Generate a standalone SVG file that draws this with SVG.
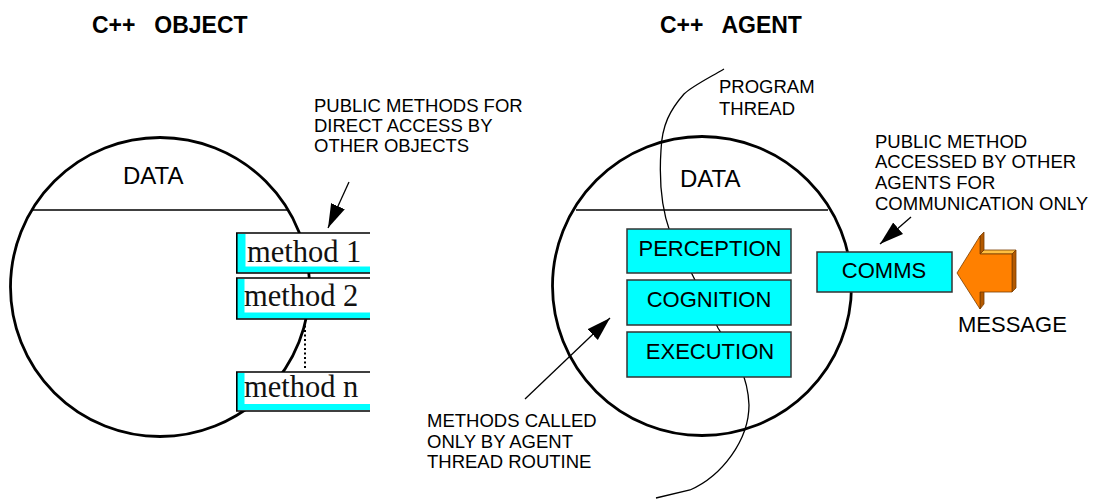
<svg xmlns="http://www.w3.org/2000/svg" width="1095" height="502" viewBox="0 0 1095 502">
  <defs>
    <style>
      .title { font-family: "Liberation Sans", Arial, sans-serif; font-weight: bold; font-size: 23px; word-spacing: 3px; fill: #000; }
      .note { font-family: "Liberation Sans", Arial, sans-serif; font-size: 18.5px; fill: #000; }
      .big { font-family: "Liberation Sans", Arial, sans-serif; font-size: 22px; fill: #000; }
      .data { font-family: "Liberation Sans", Arial, sans-serif; font-size: 24px; fill: #000; }
      .meth { font-family: "Liberation Serif", "Times New Roman", serif; font-size: 30.5px; fill: #111; }
      .shell { fill: none; stroke: #000; stroke-width: 2.8; }
      .divider { stroke: #000; stroke-width: 1.3; }
      .mbox { fill: #fff; }
      .mshade { fill: #00ffff; }
      .mborder { fill: none; stroke: #000; stroke-width: 1.6; }
      .cbox { fill: #00ffff; stroke: #333; stroke-width: 1.5; }
      .lead { fill: none; stroke: #000; stroke-width: 1.3; }
      .thread { fill: none; stroke: #000; stroke-width: 1.3; }
    </style>
    <marker id="head" markerUnits="userSpaceOnUse" markerWidth="26" markerHeight="18" refX="24" refY="9" orient="auto">
      <path d="M0,1.5 L24,9 L0,16.5 Z" fill="#000"/>
    </marker>
  </defs>

  <!-- headings -->
  <text class="title" x="92" y="33" xml:space="preserve">C++  OBJECT</text>
  <text class="title" x="660" y="33" xml:space="preserve">C++  AGENT</text>

  <!-- C++ object -->
  <g id="object">
    <circle class="shell" cx="160" cy="287" r="149.5"/>
    <line class="divider" x1="33" y1="210" x2="288" y2="210"/>
    <text class="data" x="123" y="184">DATA</text>
  </g>

  <g id="method1">
    <rect class="mbox" x="236" y="233" width="134" height="40"/>
    <rect class="mshade" x="237" y="234" width="8.5" height="38"/>
    <rect class="mshade" x="237" y="266.5" width="133" height="6"/>
    <path class="mborder" d="M370,233 H236.8 V273 H370"/>
    <text class="meth" x="247" y="262">method 1</text>
  </g>

  <g id="method2">
    <rect class="mbox" x="236" y="278" width="134" height="41"/>
    <rect class="mshade" x="237" y="279" width="7.5" height="39"/>
    <rect class="mshade" x="237" y="312.5" width="133" height="6"/>
    <path class="mborder" d="M370,278 H236.8 V319 H370"/>
    <text class="meth" x="244" y="306">method 2</text>
  </g>

  <g id="method-ellipsis">
    <line x1="305" y1="321" x2="305" y2="368" stroke="#000" stroke-width="2" stroke-dasharray="2 2.5"/>
  </g>

  <g id="methodn">
    <rect class="mbox" x="236" y="372" width="134" height="39"/>
    <rect class="mshade" x="237" y="373" width="7.5" height="37"/>
    <rect class="mshade" x="237" y="404" width="133" height="6"/>
    <path class="mborder" d="M370,372 H236.8 V411 H370"/>
    <text class="meth" x="244" y="397">method n</text>
  </g>

  <g id="note-public">
    <text class="note" x="314" y="112">PUBLIC METHODS FOR</text>
    <text class="note" x="314" y="132">DIRECT ACCESS BY</text>
    <text class="note" x="314" y="152">OTHER OBJECTS</text>
  </g>

  <!-- C++ agent -->
  <g id="agent">
    <circle class="shell" cx="702" cy="286" r="149.5"/>
    <line class="divider" x1="576" y1="210" x2="828" y2="210"/>
    <text class="data" x="680" y="187">DATA</text>
  </g>

  <g id="connectors">
    <path class="thread" d="M724,69 C705,80 691,87 684,94 C670,110 662,125 661,150 C659,180 662,210 670,232 L693,276 L718,328 C735,355 748,375 749,405 C749,440 722,476 690,490 L656,498"/>
    <line class="lead" x1="349" y1="182" x2="328" y2="228" marker-end="url(#head)"/>
    <line class="lead" x1="911" y1="217" x2="880" y2="244" marker-end="url(#head)"/>
    <line class="lead" x1="525" y1="399" x2="610" y2="318" marker-end="url(#head)"/>
  </g>

  <g id="perception">
    <rect class="cbox" x="627" y="229" width="164" height="44"/>
    <text class="big" x="710" y="256" text-anchor="middle">PERCEPTION</text>
  </g>
  <g id="cognition">
    <rect class="cbox" x="627" y="280" width="164" height="45"/>
    <text class="big" x="709" y="307" text-anchor="middle">COGNITION</text>
  </g>
  <g id="execution">
    <rect class="cbox" x="627" y="332" width="164" height="45"/>
    <text class="big" x="710" y="359" text-anchor="middle">EXECUTION</text>
  </g>

  <g id="comms">
    <rect class="cbox" x="817" y="252" width="135" height="40"/>
    <text class="big" x="884" y="278" text-anchor="middle">COMMS</text>
  </g>

  <g id="message">
    <!-- extruded faces -->
    <polygon points="980,254 1012,254 1016,250 984,250" fill="#ffbf40" stroke="#7a3d00" stroke-width="0.8"/>
    <polygon points="980,236 984,232 984,250 980,254" fill="#b35900" stroke="#7a3d00" stroke-width="0.8"/>
    <polygon points="1012,254 1016,250 1016,288 1012,292" fill="#b35900" stroke="#7a3d00" stroke-width="0.8"/>
    <polygon points="980,292 984,288 984,304 980,309" fill="#b35900" stroke="#7a3d00" stroke-width="0.8"/>
    <!-- front face -->
    <polygon points="957,273 980,236 980,254 1012,254 1012,292 980,292 980,309" fill="#ff8000" stroke="#7a3d00" stroke-width="0.8"/>
    <text class="big" x="958" y="332">MESSAGE</text>
  </g>

  <g id="note-thread">
    <text class="note" x="719" y="93">PROGRAM</text>
    <text class="note" x="719" y="115">THREAD</text>
  </g>

  <g id="note-comms">
    <text class="note" x="875" y="148">PUBLIC METHOD</text>
    <text class="note" x="875" y="168">ACCESSED BY OTHER</text>
    <text class="note" x="875" y="189">AGENTS FOR</text>
    <text class="note" x="875" y="210">COMMUNICATION ONLY</text>
  </g>

  <g id="note-methods">
    <text class="note" x="427" y="427">METHODS CALLED</text>
    <text class="note" x="427" y="448">ONLY BY AGENT</text>
    <text class="note" x="427" y="468">THREAD ROUTINE</text>
  </g>
</svg>
